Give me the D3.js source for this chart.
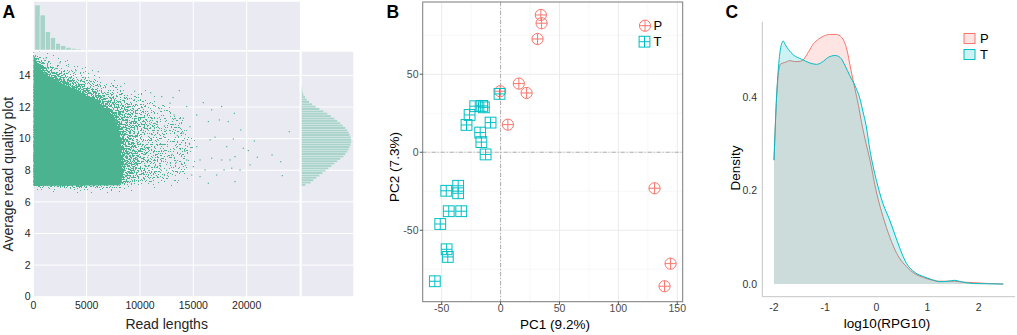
<!DOCTYPE html>
<html><head><meta charset="utf-8">
<script src="https://cdn.jsdelivr.net/npm/d3@7"></script>
<style>body{margin:0;background:#fff;} svg{display:block;} text{font-family:"Liberation Sans",Arial,sans-serif;}</style>
</head><body><svg id="c" width="1017" height="335"></svg>
<script>
// ---------- Panel A data ----------
const aXTicks = [0, 5000, 10000, 15000, 20000];
const aYTicks = [0, 2, 4, 6, 8, 10, 12, 14];
// top marginal histogram of read length (bin start 150, width 485)
const lenBinStart = 150, lenBinWidth = 485;
const lenCounts = [45, 35, 18.3, 12.3, 6.7, 4.3, 2.7, 1.7, 1.0, 0.5, 0.3, 0.2, 0.15, 0.1];
// right marginal histogram of quality (bin start 7.0, width 0.15)
const qBinStart = 7.0, qBinWidth = 0.15;
const qCounts = [4, 9, 12, 15, 18, 21, 24, 27, 30, 33, 36, 39, 42, 44, 46, 47.5, 48.5, 49.5, 50, 50,
  49.5, 48.5, 47.5, 46, 44, 41.5, 39, 36, 33, 29.5, 26, 22, 18, 14, 10.5, 7.5, 5, 3.5, 2.2, 1.3, 0.8, 0.4];
// saturated core of the scatter cloud (read length, quality)
const coreCloud = [[0,15.3],[150,15.15],[450,14.65],[900,14.2],[1500,13.9],[2500,13.55],[3400,13.25],[4300,12.95],
  [5300,12.6],[6200,12.2],[7000,11.8],[7600,11.3],[8000,10.6],[8200,9.5],[8300,8.0],[8300,7.2],[8000,7.05],[0,7.0]];
// fringe zones of decreasing point density (density level per zone)
const fringeDense = [[0,15.4],[1000,14.7],[3000,14.0],[5000,13.35],[6500,12.85],[7800,12.35],[8800,11.8],[9500,11.1],
  [9900,10.0],[10000,8.5],[9800,7.4],[9200,7.1],[7000,7.0],[0,7.0]];
const fringeMid = [[0,15.5],[500,15.3],[2000,14.6],[4000,14.0],[6000,13.45],[8000,12.85],[9500,12.4],[10500,11.9],
  [11300,11.1],[11800,10.0],[11900,8.7],[11500,7.6],[10600,7.2],[9000,7.06],[0,7.0]];
const fringeSparse = [[0,15.5],[3000,14.7],[6000,14.0],[8500,13.2],[10500,12.7],[12000,12.3],[13000,11.9],[14000,11.1],
  [14700,10.0],[14800,8.8],[14400,7.8],[13000,7.3],[11000,7.1],[0,7.0]];
const zoneLevels = [0.25, 0.173, 0.226]; // sparse, mid, dense (stacked)
// isolated long reads
const outliers = [[13690,13.04],[15940,12.28],[17660,12.03],[18850,11.6],[24000,10.44],[17440,11.18],[18280,11.08],
  [19440,10.55],[20720,9.85],[20160,9.24],[21000,8.82],[22380,8.97],[23190,8.54],[23340,7.66],[20320,8.34],[18910,7.28],
  [17660,8.65],[16570,9.92],[17030,10.09],[18130,9.49],[16100,8.02],[16720,8.76],[18600,8.13],[19380,8.02],[17190,7.7],
  [16410,7.18],[15320,9.49],[15630,8.65],[15000,8.23],[15630,7.6],[14690,10.76],[15320,11.5],[16720,11.82],[16410,11.08],
  [18750,9.98],[19690,9.39],[18910,8.86],[18440,8.65],[17880,8.02],[14850,7.7],[14380,8.65],[14630,9.7],[14060,10.34],
  [14060,11.29],[14380,12.03],[12820,12.24],[12040,12.66],[6090,14.24],[13200,11.5],[13500,10.2],[13000,9.0],[12500,8.0],
  [13800,7.9],[12300,10.8],[11800,11.9],[13100,12.6],[9500,13.0],[8200,13.3],[4000,14.3],[2500,14.8],[1200,15.1],
  [11000,12.9],[14200,9.2],[13400,8.5]];

// ---------- Panel B data ----------
const bXTicks = [-50, 0, 50, 100, 150];
const bYTicks = [-50, 0, 50];
const bXMinor = [-25, 25, 75, 125];
const bYMinor = [-75, -25, 25, 75];
const pcaP_x = [34.2, 34.8, 31.4, 15.5, 22.1, -0.3, 6.2, 130.7, 144.3, 139.2];
const pcaP_y = [88.0, 82.7, 72.6, 44.0, 38.0, 39.1, 17.7, -23.1, -71.4, -85.9];
const pcaT_x = [-0.9, -21.5, -15.6, -14.2, -26.3, -28.9, -8.5, -17.3, -16.3, -12.7, -46.1, -36.0, -36.0, -44.0, -33.4, -51.2, -45.8, -44.8, -55.8];
const pcaT_y = [37.4, 29.5, 29.7, 28.8, 23.9, 17.5, 19.0, 12.6, 6.5, -1.4, -24.7, -21.5, -26.3, -37.8, -37.8, -46.0, -62.2, -67.1, -82.7];

// ---------- Panel C data ----------
const cXTicks = [-2, -1, 0, 1, 2];
const cYTicks = [0, 0.2, 0.4];
const densT_x = [-2.0,-1.95,-1.9,-1.85,-1.82,-1.78,-1.72,-1.62,-1.46,-1.30,-1.17,-1.07,-0.94,-0.81,-0.71,-0.61,-0.52,-0.42,-0.32,-0.26,-0.20,-0.125,0.0,0.13,0.26,0.4,0.5,0.59,0.75,0.92,1.1,1.24,1.4,1.53,1.65,1.9,2.2,2.48];
const densT_y = [0.265,0.40,0.48,0.515,0.52,0.512,0.502,0.49,0.481,0.473,0.470,0.474,0.485,0.489,0.485,0.467,0.446,0.425,0.396,0.368,0.339,0.286,0.222,0.172,0.137,0.094,0.065,0.044,0.025,0.016,0.009,0.005,0.006,0.008,0.005,0.001,0.0005,0];
const densP_x = [-2.0,-1.95,-1.9,-1.87,-1.79,-1.69,-1.6,-1.53,-1.45,-1.33,-1.23,-1.13,-1.04,-0.91,-0.78,-0.68,-0.58,-0.50,-0.42,-0.35,-0.29,-0.2,-0.125,0.0,0.13,0.26,0.4,0.59,0.75,0.92,1.1,1.24,1.4,1.53,1.7,1.9,2.2,2.48];
const densP_y = [0.265,0.40,0.462,0.471,0.474,0.478,0.476,0.476,0.478,0.496,0.514,0.524,0.53,0.534,0.534,0.528,0.503,0.46,0.418,0.382,0.346,0.30,0.265,0.197,0.144,0.101,0.065,0.037,0.022,0.014,0.008,0.006,0.006,0.006,0.004,0.003,0.001,0];
const groups = ["P", "T"];
const colP = "#F8766D", colT = "#00BFC4";

const svg = d3.select("#c");

// ================= Panel A =================
const A = {x0:33.3, x1:300, y0:51.7, y1:296.7, tTop:1.7, tBot:50, rL:301.7, rR:353.3};
const green = "#4CB391", bg = "#EAEAF2";
const ax = d3.scaleLinear().domain([0,25000]).range([A.x0, A.x1]);
const ay = d3.scaleLinear().domain([0,15.5]).range([A.y1, A.y0]);
const hy = d3.scaleLinear().domain([0,48.3]).range([A.tBot, A.tTop]);
const hx = d3.scaleLinear().domain([0,52]).range([A.rL, A.rR]);
const gA = svg.append("g");
gA.append("rect").attr("x",A.x0).attr("y",A.y0).attr("width",A.x1-A.x0).attr("height",A.y1-A.y0).attr("fill",bg);
gA.append("rect").attr("x",A.x0).attr("y",A.tTop).attr("width",A.x1-A.x0).attr("height",A.tBot-A.tTop).attr("fill",bg);
gA.append("rect").attr("x",A.rL).attr("y",A.y0).attr("width",A.rR-A.rL).attr("height",A.y1-A.y0).attr("fill",bg);
// grid
gA.selectAll(".vg").data(aXTicks.concat([25000])).join("line")
  .attr("x1",d=>ax(d)).attr("x2",d=>ax(d)).attr("y1",A.y0).attr("y2",A.y1).attr("stroke","#fff").attr("stroke-width",1);
gA.selectAll(".vgt").data(aXTicks).join("line")
  .attr("x1",d=>ax(d)).attr("x2",d=>ax(d)).attr("y1",A.tTop).attr("y2",A.tBot).attr("stroke","#fff").attr("stroke-width",1);
gA.selectAll(".hg").data(aYTicks).join("line")
  .attr("x1",A.x0).attr("x2",A.x1).attr("y1",d=>ay(d)).attr("y2",d=>ay(d)).attr("stroke","#fff").attr("stroke-width",1);
gA.selectAll(".hgr").data(aYTicks).join("line")
  .attr("x1",A.rL).attr("x2",A.rR).attr("y1",d=>ay(d)).attr("y2",d=>ay(d)).attr("stroke","#fff").attr("stroke-width",1);
// clip + stipple rendering of the point cloud density
const defs = svg.append("defs");
defs.append("clipPath").attr("id","clipA").append("rect").attr("x",A.x0).attr("y",A.y0).attr("width",A.x1-A.x0).attr("height",A.y1-A.y0);
const f = defs.append("filter").attr("id","stipple").attr("filterUnits","userSpaceOnUse")
  .attr("x",A.x0).attr("y",A.y0).attr("width",A.x1-A.x0).attr("height",A.y1-A.y0).attr("color-interpolation-filters","sRGB");
f.append("feGaussianBlur").attr("in","SourceAlpha").attr("stdDeviation",3.5).attr("result","dens");
f.append("feTurbulence").attr("type","fractalNoise").attr("baseFrequency",0.7).attr("numOctaves",2).attr("seed",7).attr("result","noise");
f.append("feColorMatrix").attr("in","noise").attr("type","matrix")
  .attr("values","0 0 0 0 0  0 0 0 0 0  0 0 0 0 0  2 0 0 0 -0.5").attr("result","nA");
f.append("feComposite").attr("in","dens").attr("in2","nA").attr("operator","arithmetic")
  .attr("k1",0).attr("k2",1).attr("k3",-1).attr("k4",0.485).attr("result","diff");
const ct = f.append("feComponentTransfer").attr("in","diff").attr("result","mask");
ct.append("feFuncA").attr("type","discrete").attr("tableValues","0 1");
f.append("feFlood").attr("flood-color",green).attr("result","col");
f.append("feComposite").attr("in","col").attr("in2","mask").attr("operator","in");

const cloud = gA.append("g").attr("clip-path","url(#clipA)");
const poly = d3.line().x(d=>ax(d[0])).y(d=>ay(d[1]));
const dz = cloud.append("g").attr("filter","url(#stipple)");
[fringeSparse, fringeMid, fringeDense].forEach((p,i)=>{
  dz.append("path").attr("d",poly(p)+"Z").attr("fill","#000").attr("fill-opacity",zoneLevels[i]);
});
dz.append("path").attr("d",poly(coreCloud)+"Z").attr("fill","#000");
cloud.append("path").attr("d",poly(coreCloud)+"Z").attr("fill",green);
cloud.selectAll(".o").data(outliers).join("rect").attr("x",d=>ax(d[0])-0.6).attr("y",d=>ay(d[1])-0.6)
  .attr("width",1.2).attr("height",1.2).attr("fill",green);
// top histogram
gA.selectAll(".tb").data(lenCounts).join("rect")
  .attr("x",(d,i)=>ax(lenBinStart+i*lenBinWidth)).attr("width",ax(lenBinWidth)-ax(0))
  .attr("y",d=>hy(d)).attr("height",d=>hy(0)-hy(d))
  .attr("fill",green).attr("fill-opacity",0.42).attr("stroke","#f4f4f8").attr("stroke-width",0.5);
// right histogram
gA.selectAll(".rb").data(qCounts).join("rect")
  .attr("y",(d,i)=>ay(qBinStart+(i+1)*qBinWidth)).attr("height",ay(0)-ay(qBinWidth))
  .attr("x",A.rL).attr("width",d=>hx(d)-hx(0))
  .attr("fill",green).attr("fill-opacity",0.4).attr("stroke","#f4f4f8").attr("stroke-width",0.3);
// tick labels
gA.selectAll(".xt").data(aXTicks).join("text").attr("x",d=>ax(d)).attr("y",309).attr("text-anchor","middle")
  .attr("font-size",10.5).attr("fill","#262626").text(d=>d);
gA.selectAll(".yt").data(aYTicks).join("text").attr("x",30.5).attr("y",d=>ay(d)).attr("dy","0.35em").attr("text-anchor","end")
  .attr("font-size",10.5).attr("fill","#262626").text(d=>d);
gA.append("text").attr("x",(A.x0+A.x1)/2).attr("y",329).attr("text-anchor","middle").attr("font-size",14).attr("fill","#262626").text("Read lengths");
gA.append("text").attr("transform",`translate(12.5,${(A.y0+A.y1)/2}) rotate(-90)`).attr("text-anchor","middle").attr("font-size",14).attr("fill","#262626").text("Average read quality plot");
svg.append("text").attr("x",2.5).attr("y",18.3).attr("font-size",17.5).attr("font-weight","bold").text("A");

// ================= Panel B =================
const B = {x0:422.7, x1:682.7, y0:2, y1:301.7};
const bx = d3.scaleLinear().domain([-66.1,154.6]).range([B.x0,B.x1]);
const by = d3.scaleLinear().domain([-95.8,96.3]).range([B.y1,B.y0]);
const gB = svg.append("g");
gB.selectAll(".bmx").data(bXMinor).join("line").attr("x1",d=>bx(d)).attr("x2",d=>bx(d)).attr("y1",B.y0).attr("y2",B.y1).attr("stroke","#F3F3F3").attr("stroke-width",0.7);
gB.selectAll(".bmy").data(bYMinor).join("line").attr("y1",d=>by(d)).attr("y2",d=>by(d)).attr("x1",B.x0).attr("x2",B.x1).attr("stroke","#F3F3F3").attr("stroke-width",0.7);
gB.selectAll(".bgx").data(bXTicks).join("line").attr("x1",d=>bx(d)).attr("x2",d=>bx(d)).attr("y1",B.y0).attr("y2",B.y1).attr("stroke","#EBEBEB").attr("stroke-width",1);
gB.selectAll(".bgy").data(bYTicks).join("line").attr("y1",d=>by(d)).attr("y2",d=>by(d)).attr("x1",B.x0).attr("x2",B.x1).attr("stroke","#EBEBEB").attr("stroke-width",1);
gB.append("line").attr("x1",bx(0)).attr("x2",bx(0)).attr("y1",B.y0).attr("y2",B.y1).attr("stroke","#A8A8A8").attr("stroke-width",0.9).attr("stroke-dasharray","4,2,1,2");
gB.append("line").attr("y1",by(0)).attr("y2",by(0)).attr("x1",B.x0).attr("x2",B.x1).attr("stroke","#A8A8A8").attr("stroke-width",0.9).attr("stroke-dasharray","4,2,1,2");
function circlePlus(g, x, y, r, col){
  g.append("circle").attr("cx",x).attr("cy",y).attr("r",r).attr("fill","none").attr("stroke",col).attr("stroke-width",1);
  g.append("line").attr("x1",x-r).attr("x2",x+r).attr("y1",y).attr("y2",y).attr("stroke",col).attr("stroke-width",1);
  g.append("line").attr("x1",x).attr("x2",x).attr("y1",y-r).attr("y2",y+r).attr("stroke",col).attr("stroke-width",1);
}
function squarePlus(g, x, y, r, col){
  g.append("rect").attr("x",x-r).attr("y",y-r).attr("width",2*r).attr("height",2*r).attr("fill","none").attr("stroke",col).attr("stroke-width",1);
  g.append("line").attr("x1",x-r).attr("x2",x+r).attr("y1",y).attr("y2",y).attr("stroke",col).attr("stroke-width",1);
  g.append("line").attr("x1",x).attr("x2",x).attr("y1",y-r).attr("y2",y+r).attr("stroke",col).attr("stroke-width",1);
}
const pts = gB.append("g");
pcaP_x.forEach((v,i)=>circlePlus(pts, bx(v), by(pcaP_y[i]), 5.6, colP));
pcaT_x.forEach((v,i)=>squarePlus(pts, bx(v), by(pcaT_y[i]), 5.4, colT));
gB.append("rect").attr("x",B.x0).attr("y",B.y0).attr("width",B.x1-B.x0).attr("height",B.y1-B.y0).attr("fill","none").attr("stroke","#7a7a7a").attr("stroke-width",1);
gB.selectAll(".btx").data(bXTicks).join("line").attr("x1",d=>bx(d)).attr("x2",d=>bx(d)).attr("y1",B.y1).attr("y2",B.y1+3).attr("stroke","#555");
gB.selectAll(".bty").data(bYTicks).join("line").attr("y1",d=>by(d)).attr("y2",d=>by(d)).attr("x1",B.x0-3).attr("x2",B.x0).attr("stroke","#555");
gB.selectAll(".bxl").data(bXTicks).join("text").attr("x",d=>bx(d)).attr("y",312).attr("text-anchor","middle").attr("font-size",10.5).attr("fill","#4D4D4D").text(d=>d);
gB.selectAll(".byl").data(bYTicks).join("text").attr("x",418.5).attr("y",d=>by(d)).attr("dy","0.35em").attr("text-anchor","end").attr("font-size",10.5).attr("fill","#4D4D4D").text(d=>d);
gB.append("text").attr("x",555).attr("y",329).attr("text-anchor","middle").attr("font-size",13.5).text("PC1 (9.2%)");
gB.append("text").attr("transform","translate(399,167) rotate(-90)").attr("text-anchor","middle").attr("font-size",13.5).text("PC2 (7.3%)");
// legend
circlePlus(gB, 645, 25.7, 5.6, colP);
squarePlus(gB, 644.5, 41.7, 5.4, colT);
gB.append("text").attr("x",653.5).attr("y",25.7).attr("dy","0.36em").attr("font-size",13).text(groups[0]);
gB.append("text").attr("x",653.5).attr("y",41.7).attr("dy","0.36em").attr("font-size",13).text(groups[1]);
svg.append("text").attr("x",386.5).attr("y",18.3).attr("font-size",17.5).attr("font-weight","bold").text("B");

// ================= Panel C =================
const C = {x0:762.3, x1:1015, y0:21.7, y1:296.7};
const cx = d3.scaleLinear().domain([-2.229,2.709]).range([C.x0,C.x1]);
const cy = d3.scaleLinear().domain([-0.0271,0.5613]).range([C.y1,C.y0]);
const gC = svg.append("g");
const dens = [{xs:densP_x, ys:densP_y, col:colP}, {xs:densT_x, ys:densT_y, col:colT}];
dens.forEach(s=>{
  const pts = s.xs.map((x,i)=>[x, s.ys[i]]);
  const area = d3.area().x(d=>cx(d[0])).y0(cy(0)).y1(d=>cy(d[1])).curve(d3.curveMonotoneX);
  const line = d3.line().x(d=>cx(d[0])).y(d=>cy(d[1])).curve(d3.curveMonotoneX);
  gC.append("path").attr("d",area(pts)).attr("fill",s.col).attr("fill-opacity",0.2);
  gC.append("path").attr("d",line(pts)).attr("fill","none").attr("stroke",s.col).attr("stroke-width",1);
});
gC.append("line").attr("x1",C.x0).attr("x2",C.x0).attr("y1",C.y0).attr("y2",C.y1).attr("stroke","#C4C4C4");
gC.append("line").attr("x1",C.x0).attr("x2",C.x1).attr("y1",C.y1).attr("y2",C.y1).attr("stroke","#C4C4C4");
gC.selectAll(".cxl").data(cXTicks).join("text").attr("x",d=>cx(d)).attr("y",310.5).attr("text-anchor","middle").attr("font-size",10.5).attr("fill","#333").text(d=>d);
gC.selectAll(".cyl").data(cYTicks).join("text").attr("x",757).attr("y",d=>cy(d)).attr("dy","0.35em").attr("text-anchor","end").attr("font-size",10.5).attr("fill","#333").text(d=>d.toFixed(1));
gC.append("text").attr("x",887).attr("y",328).attr("text-anchor","middle").attr("font-size",13.5).text("log10(RPG10)");
gC.append("text").attr("transform","translate(740,168) rotate(-90)").attr("text-anchor","middle").attr("font-size",13.5).text("Density");
[colP, colT].forEach((c,i)=>{
  gC.append("rect").attr("x",964).attr("y",33.5+i*16).attr("width",11).attr("height",10).attr("fill",c).attr("fill-opacity",0.2).attr("stroke",c).attr("stroke-width",1);
  gC.append("text").attr("x",980).attr("y",38.5+i*16).attr("dy","0.36em").attr("font-size",13).text(groups[i]);
});
svg.append("text").attr("x",725.5).attr("y",18.3).attr("font-size",17.5).attr("font-weight","bold").text("C");
</script></body></html>
